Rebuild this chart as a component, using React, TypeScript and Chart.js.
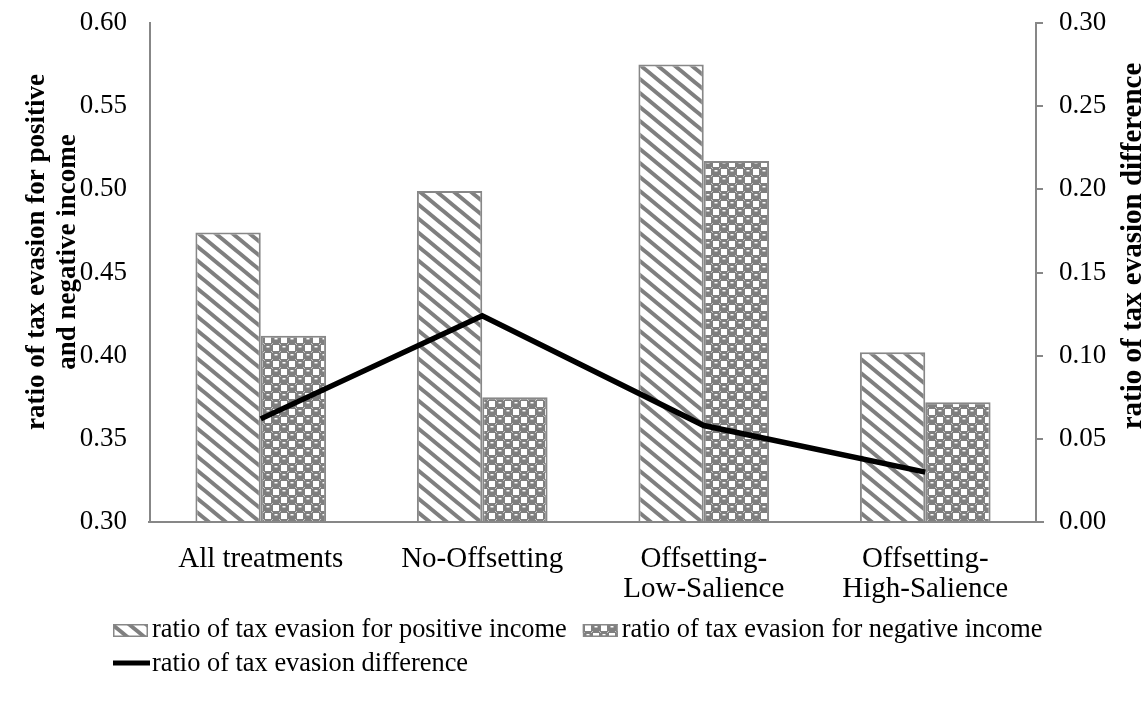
import React, { useEffect, useRef } from "react";
import { Chart, registerables } from "chart.js";

Chart.register(...registerables);

// Treatment groups shown on the category axis (multi-line where wrapped)
const categories: (string | string[])[] = [
  "All treatments",
  "No-Offsetting",
  ["Offsetting-", "Low-Salience"],
  ["Offsetting-", "High-Salience"],
];

// Bar series (left axis)
const positiveIncomeRatio = [0.474, 0.499, 0.575, 0.402];
const negativeIncomeRatio = [0.412, 0.375, 0.517, 0.372];

// Line series (right axis)
const evasionDifference = [0.062, 0.124, 0.058, 0.030];

// Axis ranges and tick step
const leftAxisRange = [0.3, 0.6];
const rightAxisRange = [0.0, 0.3];
const tickStep = 0.05;

const seriesNames = [
  "ratio of tax evasion for positive income",
  "ratio of tax evasion for negative income",
  "ratio of tax evasion difference",
];
const leftTitleLines = ["ratio of tax evasion for positive", "and negative income"];
const rightTitle = "ratio of tax evasion difference";

const FONT = "'Liberation Serif', 'Times New Roman', serif";
const GRAY = "#878787";
const HATCH = "#7f7f7f";

// Wide downward-diagonal hatch
function makeStripePattern(ctx: CanvasRenderingContext2D): CanvasPattern {
  const w = 17;
  const h = 14;
  const tile = document.createElement("canvas");
  tile.width = w;
  tile.height = h;
  const t = tile.getContext("2d")!;
  t.fillStyle = "#ffffff";
  t.fillRect(0, 0, w, h);
  t.strokeStyle = HATCH;
  t.lineWidth = 4;
  for (const k of [-1, 0, 1]) {
    t.beginPath();
    t.moveTo(k * w - w, -h);
    t.lineTo(k * w + 2 * w, 2 * h);
    t.stroke();
  }
  return ctx.createPattern(tile, "repeat")!;
}

// Checker of shaded balls and white squares
function makeBallPattern(ctx: CanvasRenderingContext2D): CanvasPattern {
  const s = 16;
  const c = s / 2;
  const tile = document.createElement("canvas");
  tile.width = s;
  tile.height = s;
  const t = tile.getContext("2d")!;
  t.fillStyle = HATCH;
  t.fillRect(0, 0, s, s);
  t.fillStyle = "#ffffff";
  // open cells
  t.fillRect(c + 1, 1, c - 2, c - 2);
  t.fillRect(1, c + 1, c - 2, c - 2);
  // highlights on the balls
  const ball = (x: number, y: number) => {
    t.fillStyle = "#ffffff";
    t.fillRect(x + 2.5, y + 2, 3, 1.5);
    t.fillStyle = "#c8c8c8";
    t.fillRect(x, y, 1, 1);
    t.fillRect(x + c - 1, y, 1, 1);
    t.fillRect(x, y + c - 1, 1, 1);
    t.fillRect(x + c - 1, y + c - 1, 1, 1);
  };
  ball(0, 0);
  ball(c, c);
  return ctx.createPattern(tile, "repeat")!;
}

// keep the plot area fixed: value axes add no extra padding above/below
function fixVerticalScale(width: number) {
  return (scale: any) => {
    scale.width = width;
    scale.paddingTop = 0;
    scale.paddingBottom = 0;
  };
}

export default function App() {
  const canvasRef = useRef<HTMLCanvasElement | null>(null);

  useEffect(() => {
    const canvas = canvasRef.current;
    if (!canvas) return;
    const ctx = canvas.getContext("2d")!;
    const stripes = makeStripePattern(ctx);
    const balls = makeBallPattern(ctx);

    const decorations = {
      id: "decorations",
      afterDraw(chart: any) {
        const { ctx: c, chartArea } = chart;
        c.save();

        // category axis line, running slightly past the secondary axis
        c.strokeStyle = GRAY;
        c.lineWidth = 2;
        c.beginPath();
        c.moveTo(chartArea.left - 2, chartArea.bottom);
        c.lineTo(chartArea.right + 8, chartArea.bottom);
        c.stroke();

        // axis titles
        c.fillStyle = "#000";
        c.textAlign = "center";
        c.textBaseline = "middle";
        c.font = `bold 27px ${FONT}`;
        c.save();
        c.translate(37, 252);
        c.rotate(-Math.PI / 2);
        c.fillText(leftTitleLines[0], 0, 0);
        c.fillText(leftTitleLines[1], 0, 31);
        c.restore();
        c.font = `bold 29px ${FONT}`;
        c.save();
        c.translate(1134, 246);
        c.rotate(-Math.PI / 2);
        c.fillText(rightTitle, 0, 0);
        c.restore();

        // legend
        c.font = `26.4px ${FONT}`;
        c.textAlign = "left";
        c.textBaseline = "alphabetic";
        const row1 = 637;
        const row2 = 671;
        const sw = 35;
        const sh = 13;
        let x = 113;
        const swatch = (px: number, fill: CanvasPattern) => {
          c.fillStyle = fill;
          c.fillRect(px, row1 - sh, sw, sh);
          c.strokeStyle = GRAY;
          c.lineWidth = 1.5;
          c.strokeRect(px + 0.75, row1 - sh + 0.75, sw - 1.5, sh - 1.5);
        };
        swatch(x, stripes);
        c.fillStyle = "#000";
        c.fillText(seriesNames[0], x + sw + 4, row1);
        x = x + sw + 4 + c.measureText(seriesNames[0]).width + 16;
        swatch(x, balls);
        c.fillStyle = "#000";
        c.fillText(seriesNames[1], x + sw + 4, row1);

        c.strokeStyle = "#000";
        c.lineWidth = 5;
        c.beginPath();
        c.moveTo(113, row2 - 8);
        c.lineTo(150, row2 - 8);
        c.stroke();
        c.fillText(seriesNames[2], 152, row2);

        c.restore();
      },
    };

    const chart = new Chart(canvas, {
      type: "bar",
      data: {
        labels: categories,
        datasets: [
          {
            type: "line",
            label: seriesNames[2],
            data: evasionDifference,
            yAxisID: "y1",
            borderColor: "#000",
            borderWidth: 5.5,
            pointRadius: 0,
            tension: 0,
            order: 0,
          } as any,
          {
            label: seriesNames[0],
            data: positiveIncomeRatio,
            yAxisID: "y",
            backgroundColor: stripes,
            borderColor: GRAY,
            borderWidth: 2,
            categoryPercentage: 0.59,
            barPercentage: 1,
            order: 1,
          },
          {
            label: seriesNames[1],
            data: negativeIncomeRatio,
            yAxisID: "y",
            backgroundColor: balls,
            borderColor: GRAY,
            borderWidth: 2,
            categoryPercentage: 0.59,
            barPercentage: 1,
            order: 1,
          },
        ],
      },
      options: {
        responsive: false,
        animation: false,
        devicePixelRatio: 1,
        layout: { padding: { top: 23, left: 0, right: 0, bottom: 0 } },
        plugins: {
          legend: { display: false },
          tooltip: { enabled: false },
        },
        scales: {
          x: {
            grid: { display: false },
            border: { display: false },
            ticks: {
              color: "#000",
              font: { family: FONT, size: 29, lineHeight: 1.05 },
              padding: 14,
              maxRotation: 0,
              autoSkip: false,
            },
            afterFit(scale: any) {
              scale.height = 180;
              scale.paddingLeft = 0;
              scale.paddingRight = 0;
            },
          },
          y: {
            position: "left",
            min: leftAxisRange[0],
            max: leftAxisRange[1],
            grid: { display: false, drawTicks: false },
            border: { display: true, color: GRAY, width: 2 },
            ticks: {
              stepSize: tickStep,
              color: "#000",
              font: { family: FONT, size: 27 },
              padding: 23,
              callback: (v: any) => Number(v).toFixed(2),
            },
            afterFit: fixVerticalScale(150),
          },
          y1: {
            position: "right",
            min: rightAxisRange[0],
            max: rightAxisRange[1],
            grid: {
              display: true,
              drawOnChartArea: false,
              drawTicks: true,
              tickLength: 7,
              color: GRAY,
              lineWidth: 2,
            },
            border: { display: true, color: GRAY, width: 2 },
            ticks: {
              stepSize: tickStep,
              color: "#000",
              font: { family: FONT, size: 27 },
              padding: 16,
              callback: (v: any) => Number(v).toFixed(2),
            },
            afterFit: fixVerticalScale(112),
          },
        },
      },
      plugins: [decorations],
    });

    return () => chart.destroy();
  }, []);

  return (
    <div style={{ position: "absolute", left: 0, top: 0, width: 1148, height: 702, background: "#fff" }}>
      <canvas ref={canvasRef} width={1148} height={702} style={{ display: "block" }} />
    </div>
  );
}
